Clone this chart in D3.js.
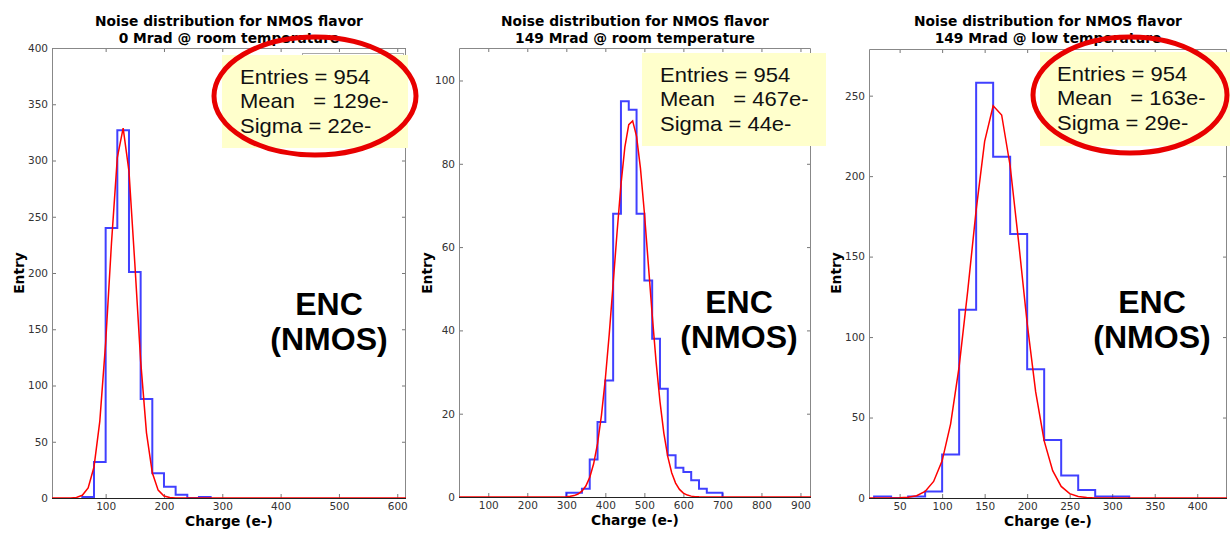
<!DOCTYPE html>
<html>
<head>
<meta charset="utf-8">
<script src="https://cdn.jsdelivr.net/npm/d3@7"></script>
<style>
  body { margin: 0; background: #fff; }
  svg { display: block; }
</style>
</head>
<body>
<svg id="chart" width="1230" height="540"></svg>
<script>
// ---- data ----
const titleLine1 = "Noise distribution for NMOS flavor";
const subtitles = ["0 Mrad @ room temperature", "149 Mrad @ room temperature", "149 Mrad @ low temperature"];
const xLabel = "Charge (e-)";
const yLabel = "Entry";

// 0 Mrad @ room temperature
const edges1 = [60, 80, 100, 120, 140, 160, 180, 200, 220, 240, 260, 280];
const counts1 = [1, 32, 240, 327, 201, 88, 22, 10, 3, 0, 1];
const fitX1 = [0, 40, 50, 60, 70, 80, 90, 100, 110, 120, 130, 140, 150, 160, 170, 180, 190, 200, 210, 220, 620];
const fitY1 = [0, 0.1, 0.5, 2.4, 9.0, 27.5, 68.4, 138, 226.6, 302.6, 328.7, 290.3, 208.6, 121.9, 57.9, 22.4, 7.0, 1.8, 0.4, 0.1, 0];
const xTicks1 = [100, 200, 300, 400, 500, 600];
const yTicks1 = [0, 50, 100, 150, 200, 250, 300, 350, 400];
const stats1 = ["Entries = 954", "Mean   = 129e-", "Sigma = 22e-"];

// 149 Mrad @ room temperature
const edges2 = [300, 320, 340, 360, 380, 400, 420, 440, 460, 480, 500, 520, 540, 560, 580, 600, 620, 640, 660, 680, 700];
const counts2 = [1, 1, 2, 9, 18, 28, 68, 95, 93, 68, 52, 38, 26, 10, 7, 6, 4, 2, 1, 1];
const fitX2 = [20, 280, 290, 300, 310, 320, 330, 340, 350, 360, 370, 380, 390, 400, 410, 420, 430, 440, 450, 460, 470,
               480, 490, 500, 510, 520, 530, 540, 550, 560, 570, 580, 590, 600, 610, 620, 630, 640, 930];
const fitY2 = [0, 0.01, 0.03, 0.07, 0.16, 0.34, 0.71, 1.4, 2.64, 4.7, 7.97, 12.8, 19.6, 28.4, 39.1, 51.2, 63.5, 75.0, 84.0, 89.4, 90.3,
               86.6, 78.9, 68.3, 56.1, 43.8, 32.5, 22.9, 15.3, 9.7, 5.84, 3.35, 1.82, 0.94, 0.46, 0.21, 0.09, 0.04, 0];
const xTicks2 = [100, 200, 300, 400, 500, 600, 700, 800, 900];
const yTicks2 = [0, 20, 40, 60, 80, 100];
const stats2 = ["Entries = 954", "Mean   = 467e-", "Sigma = 44e-"];

// 149 Mrad @ low temperature
const edges3 = [20, 40, 60, 80, 100, 120, 140, 160, 180, 200, 220, 240, 260, 280, 300, 320];
const counts3 = [1, 0, 1, 4, 27, 117, 258, 212, 164, 80, 36, 14, 5, 1, 1];
const fitX3 = [10, 20, 30, 40, 50, 60, 70, 80, 90, 100, 110, 120, 130, 140, 150, 160, 170, 180, 190, 200,
               210, 220, 230, 240, 250, 260, 270, 280, 290, 440];
const fitY3 = [0, 0, 0.01, 0.03, 0.12, 0.45, 1.43, 4.08, 10.3, 23.1, 46.1, 81.6, 128.2, 178.9, 221.6, 243.7, 238.0, 206.3, 158.8, 108.6,
               65.9, 35.5, 17.0, 7.2, 2.7, 0.91, 0.27, 0.07, 0.02, 0];
const xTicks3 = [50, 100, 150, 200, 250, 300, 350, 400];
const yTicks3 = [0, 50, 100, 150, 200, 250];
const stats3 = ["Entries = 954", "Mean   = 163e-", "Sigma = 29e-"];

const encLines = ["ENC", "(NMOS)"];

// ---- layout ----
const panels = [
  { edges: edges1, counts: counts1, fitX: fitX1, fitY: fitY1, xTicks: xTicks1, yTicks: yTicks1, stats: stats1,
    sub: subtitles[0], xDomain: [8, 615], yDomain: [0, 400],
    left: 52, right: 406, top: 48, bottom: 498,
    box: { x: 222, y: 55, w: 186, h: 93, tx: 240, ty: 84 },
    ellipse: { cx: 315, cy: 96, rx: 101, ry: 59 },
    legendLine: true, enc: { x: 329, y: 315 }, yLabelX: 19 },
  { edges: edges2, counts: counts2, fitX: fitX2, fitY: fitY2, xTicks: xTicks2, yTicks: yTicks2, stats: stats2,
    sub: subtitles[1], xDomain: [25, 927], yDomain: [0, 107.8],
    left: 459, right: 811, top: 48, bottom: 497,
    box: { x: 642, y: 53, w: 184, h: 93, tx: 660, ty: 82 },
    ellipse: null, enc: { x: 739, y: 313 }, yLabelX: 427 },
  { edges: edges3, counts: counts3, fitX: fitX3, fitY: fitY3, xTicks: xTicks3, yTicks: yTicks3, stats: stats3,
    sub: subtitles[2], xDomain: [14, 435], yDomain: [0, 279],
    left: 869, right: 1227, top: 49, bottom: 498,
    box: { x: 1040, y: 52, w: 190, h: 94, tx: 1057, ty: 81 },
    ellipse: { cx: 1130, cy: 95, rx: 97, ry: 58 }, enc: { x: 1152, y: 313 }, yLabelX: 836 }
];

const svg = d3.select('#chart');
const axisFont = 'DejaVu Sans, sans-serif';
const boxFont = 'Liberation Sans, Arial, sans-serif';

panels.forEach((p, i) => {
  const x = d3.scaleLinear().domain(p.xDomain).range([p.left, p.right]);
  const y = d3.scaleLinear().domain(p.yDomain).range([p.bottom, p.top]);
  const g = svg.append('g');

  // clip to the axes
  svg.append('clipPath').attr('id', 'clip' + i)
    .append('rect')
    .attr('x', p.left).attr('y', p.top)
    .attr('width', p.right - p.left).attr('height', p.bottom - p.top);

  // ticks pointing inward on all four sides
  const tickStyle = sel => {
    sel.select('.domain').remove();
    sel.selectAll('line').attr('stroke', '#777');
    sel.selectAll('text').attr('fill', '#333').style('font-family', axisFont).style('font-size', '10.5px');
  };
  g.append('g').attr('transform', `translate(0,${p.bottom})`)
    .call(d3.axisBottom(x).tickValues(p.xTicks).tickSize(-4).tickPadding(5).tickFormat(d3.format('d')))
    .call(tickStyle);
  g.append('g').attr('transform', `translate(0,${p.top})`)
    .call(d3.axisTop(x).tickValues(p.xTicks).tickSize(-4).tickFormat(''))
    .call(tickStyle);
  g.append('g').attr('transform', `translate(${p.left},0)`)
    .call(d3.axisLeft(y).tickValues(p.yTicks).tickSize(-4).tickPadding(4).tickFormat(d3.format('d')))
    .call(tickStyle);
  g.append('g').attr('transform', `translate(${p.right},0)`)
    .call(d3.axisRight(y).tickValues(p.yTicks).tickSize(-4).tickFormat(''))
    .call(tickStyle);

  // frame
  g.append('path')
    .attr('d', `M${p.left + 0.5},${p.bottom}V${p.top + 0.5}H${p.right - 0.5}V${p.bottom}`)
    .attr('fill', 'none').attr('stroke', '#888').attr('stroke-width', 1);
  g.append('line')
    .attr('x1', p.left).attr('x2', p.right)
    .attr('y1', p.bottom + 0.5).attr('y2', p.bottom + 0.5)
    .attr('stroke', '#222');

  // histogram outline (step)
  const steps = [[p.edges[0], 0]];
  p.counts.forEach((c, k) => {
    steps.push([p.edges[k], c]);
    steps.push([p.edges[k + 1], c]);
  });
  steps.push([p.edges[p.edges.length - 1], 0]);

  const line = d3.line().x(d => x(d[0])).y(d => y(d[1]));
  g.append('path')
    .datum(steps)
    .attr('clip-path', `url(#clip${i})`)
    .attr('d', line)
    .attr('fill', 'none')
    .attr('stroke', '#0000ff')
    .attr('stroke-opacity', 0.75)
    .attr('stroke-width', 2);

  // gaussian fit
  g.append('path')
    .datum(p.fitX.map((v, k) => [v, p.fitY[k]]))
    .attr('clip-path', `url(#clip${i})`)
    .attr('d', line)
    .attr('fill', 'none')
    .attr('stroke', '#ff0000')
    .attr('stroke-width', 1.5);

  // titles and axis labels
  const cx = (p.left + p.right) / 2;
  g.append('text').attr('x', cx).attr('y', 26).attr('text-anchor', 'middle')
    .style('font-family', axisFont).style('font-weight', 'bold').style('font-size', '13.8px')
    .text(titleLine1);
  g.append('text').attr('x', cx).attr('y', 43).attr('text-anchor', 'middle')
    .style('font-family', axisFont).style('font-weight', 'bold').style('font-size', '13.8px')
    .text(p.sub);
  g.append('text').attr('x', cx).attr('y', p.bottom + 28).attr('text-anchor', 'middle')
    .style('font-family', axisFont).style('font-weight', 'bold').style('font-size', '13.8px')
    .text(xLabel);
  g.append('text')
    .attr('transform', `translate(${p.yLabelX + 5},273) rotate(-90)`)
    .attr('text-anchor', 'middle')
    .style('font-family', axisFont).style('font-weight', 'bold').style('font-size', '13.8px')
    .text(yLabel);

  // pasted stats box
  if (p.legendLine) {
    g.append('rect').attr('x', 302.5).attr('y', 53.5).attr('width', 101).attr('height', 80)
      .attr('fill', 'none').attr('stroke', '#aaa');
  }
  g.append('rect')
    .attr('x', p.box.x).attr('y', p.box.y).attr('width', p.box.w).attr('height', p.box.h)
    .attr('fill', '#ffffcc');
  p.stats.forEach((s, k) => {
    g.append('text')
      .attr('transform', `translate(${p.box.tx},${p.box.ty + k * 24.3}) scale(1.1,1)`)
      .style('font-family', boxFont).style('font-size', '20px').style('white-space', 'pre')
      .attr('fill', '#111')
      .text(s);
  });

  if (p.ellipse) {
    g.append('ellipse')
      .attr('cx', p.ellipse.cx).attr('cy', p.ellipse.cy)
      .attr('rx', p.ellipse.rx).attr('ry', p.ellipse.ry)
      .attr('fill', 'none').attr('stroke', '#e80000').attr('stroke-width', 5);
  }

  encLines.forEach((t, k) => {
    g.append('text')
      .attr('x', p.enc.x).attr('y', p.enc.y + k * 35)
      .attr('text-anchor', 'middle')
      .style('font-family', boxFont).style('font-weight', 'bold').style('font-size', '32px')
      .attr('fill', '#000')
      .text(t);
  });
});
</script>
</body>
</html>
